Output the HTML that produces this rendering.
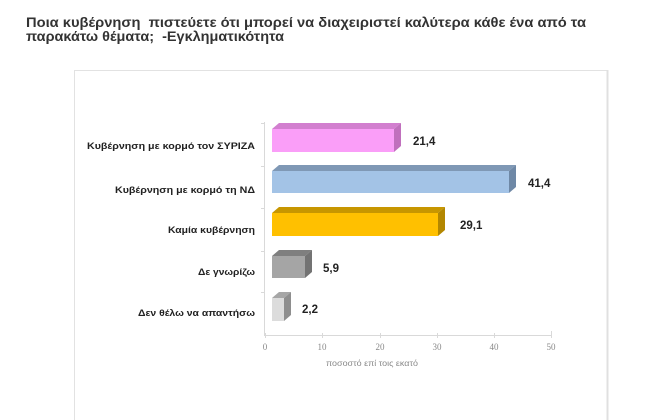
<!DOCTYPE html>
<html><head><meta charset="utf-8"><style>
html,body{margin:0;padding:0;background:#fff;}
svg{display:block;}
.pre{white-space:pre;}
</style></head><body>
<svg width="660" height="420" viewBox="0 0 660 420" xmlns="http://www.w3.org/2000/svg">
<rect width="660" height="420" fill="#fff"/>
<!-- title -->
<g font-family="'Liberation Sans','Noto Sans CJK JP',sans-serif" font-weight="bold" font-size="14" fill="#333">
<text class="pre" x="26" y="27" textLength="560" lengthAdjust="spacingAndGlyphs">Ποια κυβέρνηση  πιστεύετε ότι μπορεί να διαχειριστεί καλύτερα κάθε ένα από τα</text>
<text class="pre" x="26" y="41" textLength="258" lengthAdjust="spacingAndGlyphs">παρακάτω θέματα;  -Εγκληματικότητα</text>
</g>
<!-- chart frame -->
<path d="M74.5 420 V70.5 H607" fill="none" stroke="#e2e2e2" stroke-width="1"/>
<line x1="607.5" y1="70" x2="607.5" y2="420" stroke="#e0e0e0" stroke-width="2"/>
<!-- axes -->
<line x1="264.5" y1="122" x2="264.5" y2="335" stroke="#d9d9d9" stroke-width="1"/>
<g stroke="#d9d9d9" stroke-width="1">
<line x1="261" y1="123.5" x2="265" y2="123.5"/>
<line x1="261" y1="166.5" x2="265" y2="166.5"/>
<line x1="261" y1="208.5" x2="265" y2="208.5"/>
<line x1="261" y1="251.5" x2="265" y2="251.5"/>
<line x1="261" y1="292.5" x2="265" y2="292.5"/>
</g>
<line x1="264" y1="335.5" x2="552" y2="335.5" stroke="#d9d9d9" stroke-width="1"/>
<g stroke="#d9d9d9" stroke-width="1">
<line x1="265.5" y1="333" x2="265.5" y2="338"/>
<line x1="322.5" y1="333" x2="322.5" y2="338"/>
<line x1="380.5" y1="333" x2="380.5" y2="338"/>
<line x1="437.5" y1="333" x2="437.5" y2="338"/>
<line x1="494.5" y1="333" x2="494.5" y2="338"/>
<line x1="551.5" y1="331" x2="551.5" y2="338"/>
</g>
<g font-family="'Liberation Serif',serif" font-size="9" fill="#888" text-anchor="middle">
<text x="265" y="350">0</text>
<text x="322" y="350">10</text>
<text x="380" y="350">20</text>
<text x="437" y="350">30</text>
<text x="494" y="350">40</text>
<text x="551" y="350">50</text>
</g>
<text x="372" y="366" font-family="'Liberation Sans',sans-serif" font-size="8.5" fill="#888" text-anchor="middle" textLength="92" lengthAdjust="spacingAndGlyphs">ποσοστό επί τοις εκατό</text>

<!-- bars -->
<g>
<polygon points="272,129 279,123 401,123 394,129" fill="#d27fcf"/>
<polygon points="394,129 401,123 401,146 394,152" fill="#c070bd"/>
<rect x="272" y="129" width="122" height="23" fill="#fa9ef8"/>
</g>
<g>
<polygon points="272,171 279,165 516,165 509,171" fill="#7f98b5"/>
<polygon points="509,171 516,165 516,187 509,193" fill="#6e88a6"/>
<rect x="272" y="171" width="237" height="22" fill="#a3c3e6"/>
</g>
<g>
<polygon points="272,213 279,207 445,207 438,213" fill="#c79600"/>
<polygon points="438,213 445,207 445,230 438,236" fill="#b38700"/>
<rect x="272" y="213" width="166" height="23" fill="#ffc000"/>
</g>
<g>
<polygon points="272,256 279,250 312,250 305,256" fill="#7f7f7f"/>
<polygon points="305,256 312,250 312,272 305,278" fill="#737373"/>
<rect x="272" y="256" width="33" height="22" fill="#a5a5a5"/>
</g>
<g>
<polygon points="272,298 279,292 291,292 284,298" fill="#a6a6a6"/>
<polygon points="284,298 291,292 291,315 284,321" fill="#8e8e8e"/>
<rect x="272" y="298" width="12" height="23" fill="#dcdcdc"/>
</g>

<!-- value labels -->
<g font-family="'Liberation Sans',sans-serif" font-weight="bold" font-size="11.5" fill="#222">
<text x="413" y="145">21,4</text>
<text x="528" y="187">41,4</text>
<text x="460" y="229">29,1</text>
<text x="323" y="272">5,9</text>
<text x="302" y="313">2,2</text>
</g>

<!-- category labels -->
<g font-family="'Liberation Sans','Noto Sans CJK JP',sans-serif" font-weight="bold" font-size="9" fill="#222" text-anchor="end">
<text x="255" y="149" textLength="168" lengthAdjust="spacingAndGlyphs">Κυβέρνηση με κορμό τον ΣΥΡΙΖΑ</text>
<text x="255" y="193" textLength="140" lengthAdjust="spacingAndGlyphs">Κυβέρνηση με κορμό τη ΝΔ</text>
<text x="255" y="233" textLength="87" lengthAdjust="spacingAndGlyphs">Καμία κυβέρνηση</text>
<text x="255" y="275" textLength="57" lengthAdjust="spacingAndGlyphs">Δε γνωρίζω</text>
<text x="255" y="316" textLength="117" lengthAdjust="spacingAndGlyphs">Δεν θέλω να απαντήσω</text>
</g>
</svg>
</body></html>
